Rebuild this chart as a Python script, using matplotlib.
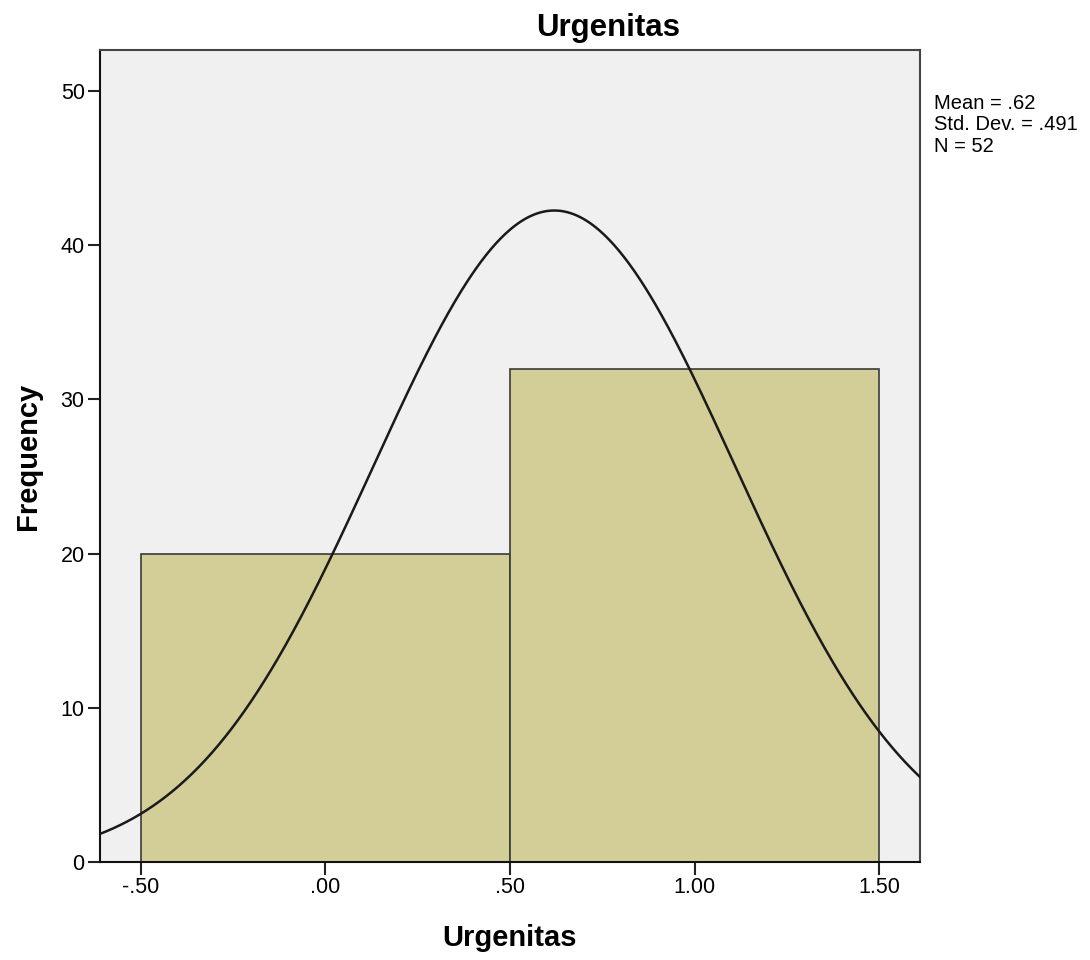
import numpy as np
import matplotlib.pyplot as plt

plt.rcParams['font.family'] = ['Liberation Sans', 'DejaVu Sans']

bin_edges = [-0.5, 0.5, 1.5]
counts = [20, 32]
mean, std, n = 0.62, 0.491, 52
xticks = [-0.5, 0.0, 0.5, 1.0, 1.5]
xtick_labels = ['-.50', '.00', '.50', '1.00', '1.50']
yticks = [0, 10, 20, 30, 40, 50]

fig = plt.figure(figsize=(10.9, 9.6), dpi=100)
ax = fig.add_axes([100/1090, 98/960, 820/1090, 812/960])
ax.set_facecolor('#f0f0f0')

widths = np.diff(bin_edges)
ax.bar(bin_edges[:-1], counts, width=widths, align='edge',
       color='#d3ce97', edgecolor='#3a3a3a', linewidth=1.2, zorder=2)

# normal curve scaled to counts (bin width 1)
x = np.linspace(-0.611, 1.611, 500)
bw = widths[0]
y = n * bw / (np.sqrt(2 * np.pi) * std) * np.exp(-(x - mean)**2 / (2 * std**2))
ax.plot(x, y, color='#1a1a1a', linewidth=1.8, zorder=3)

ax.set_xlim(-0.611, 1.611)
ax.set_ylim(0, 52.66)
ax.set_xticks(xticks)
ax.set_xticklabels(xtick_labels)
ax.set_yticks(yticks)
ax.tick_params(axis='both', direction='out', length=9, width=1.5,
               labelsize=15.5, color='#222222', pad=2)

for s in ['left', 'bottom']:
    ax.spines[s].set_linewidth(1.5)
    ax.spines[s].set_color('#111111')
for s in ['top', 'right']:
    ax.spines[s].set_linewidth(1.5)
    ax.spines[s].set_color('#444444')

# SPSS centres the title over the chart plus the stats box
fig.text(608/1090, 1 - 28/960, 'Urgenitas', ha='center', va='center',
         fontsize=22.5, fontweight='bold')
ax.set_xlabel('Urgenitas', fontsize=21, fontweight='bold')
ax.set_ylabel('Frequency', fontsize=21, fontweight='bold')
ax.xaxis.set_label_coords(0.5, -0.0936)
ax.yaxis.set_label_coords(-0.0878, 0.5)
ax.xaxis.label.set_va('center')
ax.yaxis.label.set_va('center')

fig.text(934/1090, 1 - 94/960, 'Mean = .62\nStd. Dev. = .491\nN = 52',
         fontsize=14.5, va='top', ha='left', linespacing=1.16)

fig.savefig('out.png', dpi=100)
